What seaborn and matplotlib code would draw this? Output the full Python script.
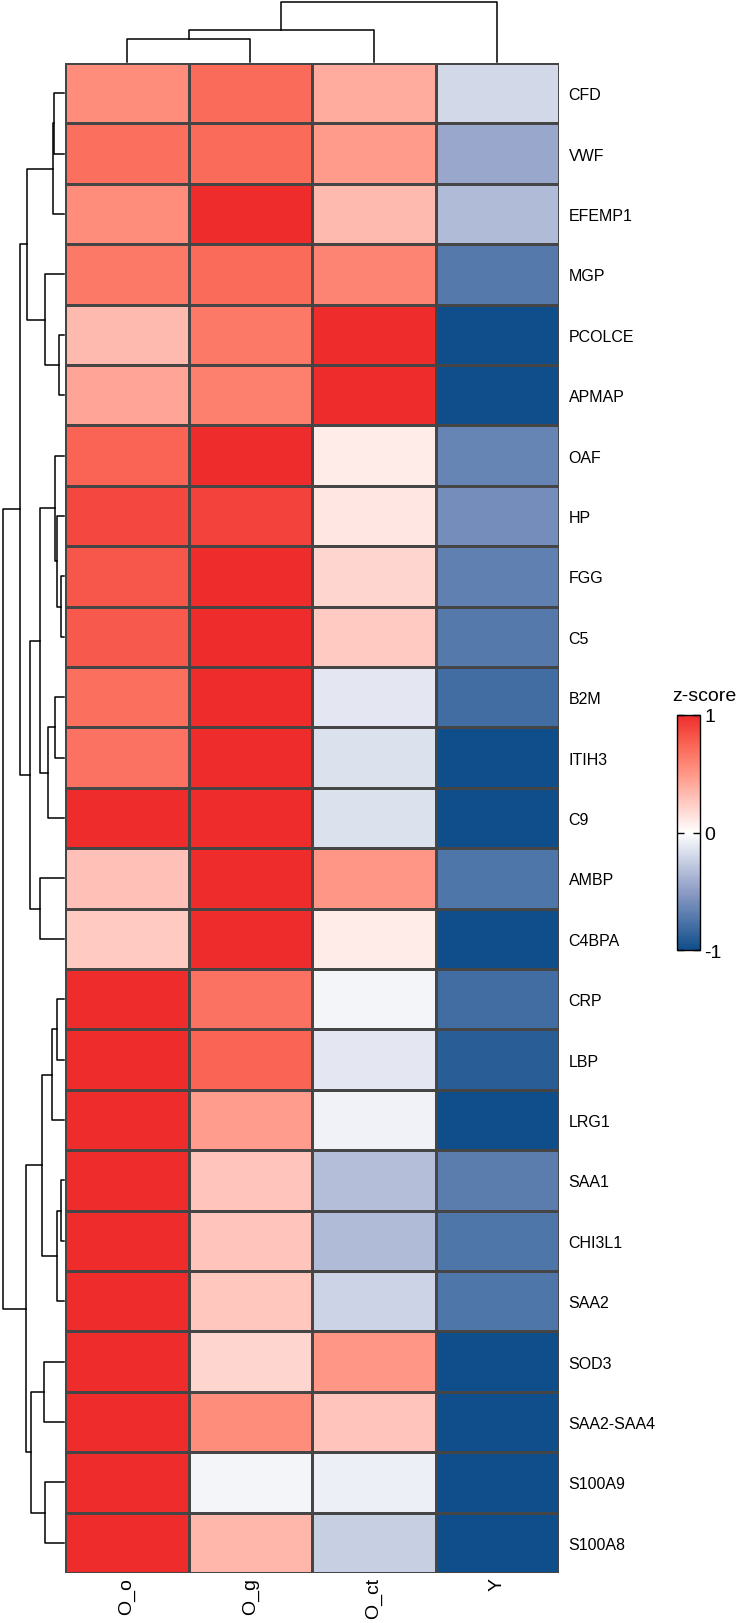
"""
Clustered z-score heatmap (pheatmap style) drawn with seaborn,
row / column dendrograms drawn from stored merge tables.
"""

import matplotlib
matplotlib.use("Agg")
import matplotlib.pyplot as plt
import pandas as pd
import seaborn as sns
from matplotlib.colors import LinearSegmentedColormap

plt.rcParams["font.family"] = ["Liberation Sans", "DejaVu Sans"]

# rows in display (dendrogram) order
GENES = ["CFD", "VWF", "EFEMP1", "MGP", "PCOLCE", "APMAP", "OAF", "HP", "FGG",
         "C5", "B2M", "ITIH3", "C9", "AMBP", "C4BPA", "CRP", "LBP", "LRG1",
         "SAA1", "CHI3L1", "SAA2", "SOD3", "SAA2-SAA4", "S100A9", "S100A8"]
SAMPLES = ["O_o", "O_g", "O_ct", "Y"]

O_O = [0.55, 0.70, 0.55, 0.65, 0.33, 0.43, 0.75, 0.88, 0.82, 0.80, 0.70, 0.68,
       1.00, 0.30, 0.25, 1.00, 1.00, 1.00, 1.00, 1.00, 1.00, 1.00, 1.00, 1.00, 1.00]
O_G = [0.72, 0.72, 1.00, 0.72, 0.65, 0.62, 1.00, 0.90, 1.00, 1.00, 1.00, 1.00,
       1.00, 1.00, 1.00, 0.68, 0.75, 0.47, 0.28, 0.28, 0.27, 0.20, 0.55, -0.05, 0.35]
O_CT = [0.40, 0.48, 0.33, 0.60, 1.00, 1.00, 0.10, 0.12, 0.20, 0.25, -0.12, -0.15,
        -0.15, 0.50, 0.10, -0.05, -0.12, -0.07, -0.33, -0.35, -0.22, 0.50, 0.28,
        -0.08, -0.25]
Y = [-0.20, -0.45, -0.35, -0.72, -1.00, -1.00, -0.65, -0.60, -0.68, -0.72, -0.80,
     -1.00, -1.00, -0.75, -1.00, -0.80, -0.90, -1.00, -0.70, -0.75, -0.75, -1.00,
     -1.00, -1.00, -1.00]

# merge tables: (left child, right child, height); leaves 0..n-1, new nodes n, n+1, ...
ROW_MERGES = [
    (0, 1, 9.5), (25, 2, 11.0), (4, 5, 5.0), (3, 27, 19.0), (26, 28, 37.3),
    (8, 9, 3.3), (7, 30, 7.3), (6, 31, 9.0), (10, 11, 9.0), (33, 12, 15.7),
    (32, 34, 24.0), (13, 14, 24.0), (35, 36, 34.0), (29, 37, 44.0),
    (15, 16, 7.0), (39, 17, 12.3), (18, 19, 3.3), (41, 20, 6.7), (40, 42, 22.3),
    (21, 22, 19.7), (23, 24, 19.0), (44, 45, 33.0), (43, 46, 38.0),
    (38, 47, 60.7),
]
COL_MERGES = [(0, 1, 23.0), (4, 2, 33.0), (5, 3, 61.0)]

W, H = 740, 1624


def box(x0, y0, x1, y1):
    """pixel box (top-left origin) -> figure fraction rect"""
    return [x0 / W, 1 - y1 / H, (x1 - x0) / W, (y1 - y0) / H]


def dendro_paths(merges, n):
    pos = {i: i + 0.5 for i in range(n)}
    hgt = {i: 0.0 for i in range(n)}
    paths = []
    for k, (a, b, h) in enumerate(merges):
        paths.append(([pos[a], pos[a], pos[b], pos[b]], [hgt[a], h, h, hgt[b]]))
        pos[n + k] = (pos[a] + pos[b]) / 2
        hgt[n + k] = h
    return paths


df = pd.DataFrame({"O_o": O_O, "O_g": O_G, "O_ct": O_CT, "Y": Y}, index=GENES)[SAMPLES]

cmap = LinearSegmentedColormap.from_list(
    "bwr_ph",
    [(0.0, "#104E8B"), (0.25, "#8E9DC6"), (0.5, "#FFFFFF"),
     (0.75, "#FF9787"), (0.875, "#FA6655"), (1.0, "#EE2C2C")],
)

fig = plt.figure(figsize=(W / 100, H / 100), dpi=100)

hm_left, hm_right, hm_top, hm_bottom = 65, 559, 64, 1574
ax = fig.add_axes(box(hm_left, hm_top, hm_right, hm_bottom))
cax = fig.add_axes(box(677, 716, 700, 951))

sns.heatmap(df, ax=ax, cmap=cmap, vmin=-1, vmax=1, cbar_ax=cax,
            linewidths=0.9, linecolor="#454545",
            xticklabels=True, yticklabels=True)

ax.yaxis.tick_right()
ax.tick_params(axis="y", length=0, pad=7, labelsize=11.5, labelrotation=0)
ax.tick_params(axis="x", length=0, pad=3, labelsize=14, labelrotation=90)
for t in ax.get_yticklabels():
    t.set_ha("left")
ax.set_xlabel("")
ax.set_ylabel("")

cb = ax.collections[0].colorbar
cb.set_ticks([-1, 0, 1])
cb.set_ticklabels(["-1", "0", "1"])
cb.outline.set_linewidth(1.0)
cb.outline.set_edgecolor("black")
cb.ax.tick_params(direction="in", left=True, right=True, length=5, width=1,
                  labelsize=14, pad=3, color="black")
fig.text(672 / W, 1 - 701 / H, "z-score", fontsize=14, ha="left", va="baseline")

# row dendrogram (root on the left)
rax = fig.add_axes(box(3, hm_top, hm_left - 1, hm_bottom))
for ys, xs in dendro_paths(ROW_MERGES, len(GENES)):
    rax.plot(xs, ys, color="black", lw=1.1, clip_on=False)
rax.set_xlim(max(m[2] for m in ROW_MERGES), 0)
rax.set_ylim(len(GENES), 0)
rax.axis("off")

# column dendrogram (root on top)
cdax = fig.add_axes(box(hm_left, 3, hm_right, hm_top - 1))
for xs, ys in dendro_paths(COL_MERGES, len(SAMPLES)):
    cdax.plot(xs, ys, color="black", lw=1.1, clip_on=False)
cdax.set_xlim(0, len(SAMPLES))
cdax.set_ylim(0, max(m[2] for m in COL_MERGES))
cdax.axis("off")

fig.savefig("out.png", dpi=100)
plt.close(fig)
